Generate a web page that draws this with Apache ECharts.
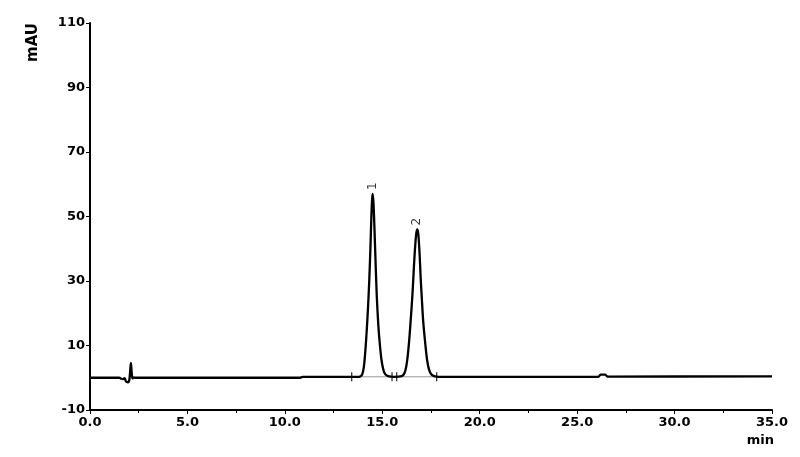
<!DOCTYPE html>
<html>
<head>
<meta charset="utf-8">
<script src="https://cdn.jsdelivr.net/npm/echarts@6/dist/echarts.min.js"></script>
<style>
html,body{margin:0;padding:0;background:#fff;}
#chart{width:800px;height:457px;}
</style>
</head>
<body>
<div id="chart"></div>
<script>
// Chromatogram trace (time in min, signal in mAU)
const traceTime = [0, 1.5, 1.6, 1.7, 1.78, 1.85, 1.95, 2.02, 2.06, 2.1, 2.14, 2.18, 2.25, 2.35,
  10.8, 10.9, 13.8,
  13.9, 13.98, 14.05, 14.12, 14.2, 14.27, 14.33, 14.39, 14.44, 14.48, 14.51, 14.55, 14.6, 14.66, 14.72, 14.8, 14.88, 14.96, 15.05, 15.15, 15.3,
  15.6,
  16.0, 16.12, 16.22, 16.3, 16.38, 16.46, 16.55, 16.62, 16.69, 16.75, 16.8, 16.85, 16.91, 16.97, 17.03, 17.1, 17.2, 17.3, 17.4, 17.52, 17.7,
  17.9, 26.1, 26.2, 26.45, 26.55, 35.0];
const traceSignal = [0, 0, -0.3, -0.4, -0.1, -1.2, -1.4, -0.6, 2.0, 4.6, 1.5, -0.2, 0.1, 0,
  0, 0.3, 0.3,
  0.5, 1.2, 3.2, 7.5, 14.5, 22, 30, 40, 50, 55.5, 57, 54, 46, 35, 25, 16, 10, 5.5, 2.6, 1.1, 0.5,
  0.3,
  0.5, 1.2, 3.2, 6.5, 11.5, 18, 26, 34, 41, 45, 46, 44.5, 39, 31, 24.5, 17.5, 11, 5.5, 2.5, 1.0, 0.4,
  0.3, 0.3, 1.0, 1.0, 0.35, 0.45];

// Peak apexes and labels
const peakTimes = [14.51, 16.8];
const peakHeights = [57, 46];
const peakNames = ['1', '2'];

// Integration markers and baselines
const integrationMarks = [13.43, 15.5, 15.74, 17.79];
const baselineLevel = 0.3;

// Axis ticks
const xTicks = [0, 5, 10, 15, 20, 25, 30, 35];
const yTicks = [-10, 10, 30, 50, 70, 90, 110];

const trace = traceTime.map((t, i) => [t, traceSignal[i]]);
const peaks = peakTimes.map((t, i) => [t, peakHeights[i], peakNames[i]]);
const marks = integrationMarks.map(t => [t, baselineLevel]);
const baselines = [
  [integrationMarks[0], baselineLevel], [integrationMarks[1], baselineLevel],
  [(integrationMarks[1] + integrationMarks[2]) / 2, '-'],
  [integrationMarks[2], baselineLevel], [integrationMarks[3], baselineLevel]
];

const labelFont = { fontFamily: 'DejaVu Sans', fontWeight: 'bold', fontSize: 13, color: '#000' };

const chart = echarts.init(document.getElementById('chart'), null, { renderer: 'canvas' });
chart.setOption({
  animation: false,
  backgroundColor: '#fff',
  grid: { left: 90, right: 28, top: 23, bottom: 47 },
  xAxis: {
    type: 'value',
    min: xTicks[0], max: xTicks[xTicks.length - 1], interval: 5,
    name: 'min', nameLocation: 'end', nameGap: 2,
    nameTextStyle: Object.assign({}, labelFont, { align: 'right', verticalAlign: 'top', padding: [24, 0, 0, 0] }),
    axisLine: { show: true, onZero: false, lineStyle: { color: '#000', width: 2 } },
    axisTick: { show: true, length: 4, lineStyle: { color: '#000', width: 1 } },
    minorTick: { show: true, splitNumber: 2, length: 3, lineStyle: { color: '#000', width: 1 } },
    axisLabel: Object.assign({}, labelFont, { margin: 6, formatter: v => v.toFixed(1) }),
    splitLine: { show: false }
  },
  yAxis: {
    type: 'value',
    min: yTicks[0], max: yTicks[yTicks.length - 1], interval: 20,
    axisLine: { show: true, onZero: false, lineStyle: { color: '#000', width: 2 } },
    axisTick: { show: true, length: 4, lineStyle: { color: '#000', width: 1 } },
    axisLabel: Object.assign({}, labelFont, { margin: 5 }),
    splitLine: { show: false }
  },
  graphic: [{
    type: 'text', left: 26, top: 23, rotation: Math.PI / 2,
    style: { text: 'mAU', font: 'bold 15px "DejaVu Sans"', fill: '#000' }
  }],
  series: [
    {
      type: 'line', data: baselines, symbol: 'none', z: 1, silent: true,
      lineStyle: { color: '#999', width: 1 }, connectNulls: false
    },
    {
      type: 'line', data: trace, symbol: 'none', z: 3, silent: true, smooth: 0.3,
      lineStyle: { color: '#000', width: 2.3, join: 'round' }
    },
    {
      type: 'scatter', data: marks, symbol: 'rect', symbolSize: [1.3, 9], z: 4, silent: true,
      itemStyle: { color: '#000' }
    },
    {
      type: 'scatter', data: peaks, symbolSize: 0, z: 5, silent: true,
      label: {
        show: true, position: 'top', distance: 4, rotate: 90,
        align: 'left', verticalAlign: 'middle',
        fontFamily: 'DejaVu Sans', fontSize: 12, color: '#000',
        formatter: p => p.data[2]
      }
    }
  ]
});
</script>
</body>
</html>
